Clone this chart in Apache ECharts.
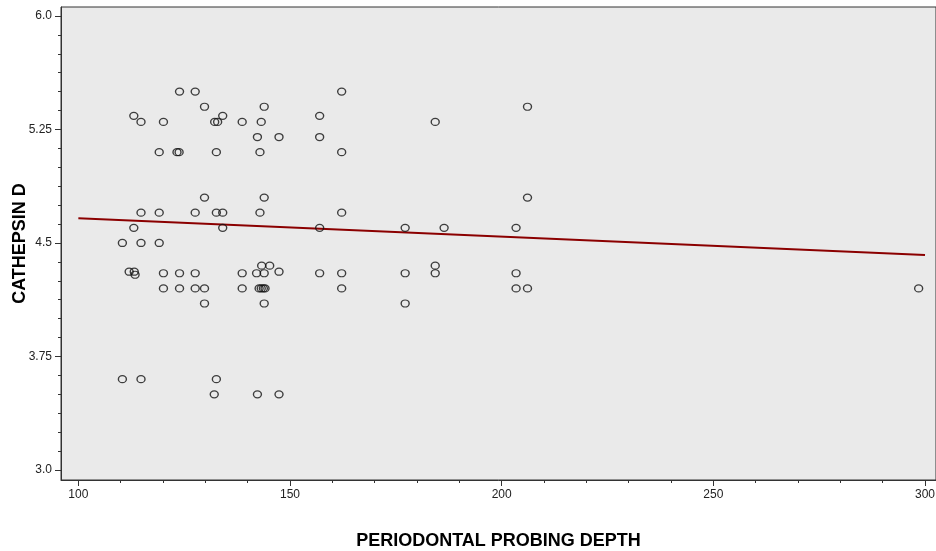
<!DOCTYPE html>
<html>
<head>
<meta charset="utf-8">
<script src="https://cdn.jsdelivr.net/npm/echarts@6/dist/echarts.min.js"></script>
<style>
  html, body { margin: 0; padding: 0; background: #ffffff; }
  #chart { width: 936px; height: 551px; }
</style>
</head>
<body>
<div id="chart"></div>
<script>
// ---- data ----
var probingDepth = [
  123.9, 127.6, 162.2, 129.8, 143.9, 206.1, 113.1, 134.1, 157.0, 114.8,
  120.1, 132.2, 132.9, 138.7, 143.2, 184.3, 142.3, 147.4, 157.0, 119.1,
  123.3, 123.8, 132.6, 142.9, 162.2, 129.8, 143.9, 206.1, 114.8, 119.1,
  127.6, 132.6, 134.1, 142.9, 162.2, 113.1, 134.1, 157.0, 177.2, 186.4,
  203.4, 110.4, 114.8, 119.1, 143.3, 145.2, 184.3, 112.0, 113.2, 113.4,
  120.1, 123.9, 127.6, 138.7, 142.1, 143.9, 147.4, 157.0, 162.2, 177.2,
  184.3, 203.4, 120.1, 123.9, 127.6, 129.8, 138.7, 142.7, 143.2, 143.7,
  144.1, 162.2, 203.4, 206.1, 298.5, 129.8, 143.9, 177.2, 110.4, 114.8,
  132.6, 132.1, 142.3, 147.4
];
var cathepsinD = [
  5.5, 5.5, 5.5, 5.4, 5.4, 5.4, 5.34, 5.34, 5.34, 5.3,
  5.3, 5.3, 5.3, 5.3, 5.3, 5.3, 5.2, 5.2, 5.2, 5.1,
  5.1, 5.1, 5.1, 5.1, 5.1, 4.8, 4.8, 4.8, 4.7, 4.7,
  4.7, 4.7, 4.7, 4.7, 4.7, 4.6, 4.6, 4.6, 4.6, 4.6,
  4.6, 4.5, 4.5, 4.5, 4.35, 4.35, 4.35, 4.31, 4.31, 4.29,
  4.3, 4.3, 4.3, 4.3, 4.3, 4.3, 4.31, 4.3, 4.3, 4.3,
  4.3, 4.3, 4.2, 4.2, 4.2, 4.2, 4.2, 4.2, 4.2, 4.2,
  4.2, 4.2, 4.2, 4.2, 4.2, 4.1, 4.1, 4.1, 3.6, 3.6,
  3.6, 3.5, 3.5, 3.5
];
// fitted line endpoints
var fitX = [100, 300];
var fitY = [4.663, 4.42];

// tick values and labels
var xTickValues = [100, 150, 200, 250, 300];
var xMinorTickValues = [110, 120, 130, 140, 160, 170, 180, 190, 210, 220, 230, 240, 260, 270, 280, 290];
var yTickValues = [3.0, 3.75, 4.5, 5.25, 6.0];
var yTickLabels = ['3.0', '3.75', '4.5', '5.25', '6.0'];
var yMinorTickValues = [3.125, 3.25, 3.375, 3.5, 3.625, 3.875, 4.0, 4.125, 4.25, 4.375,
  4.625, 4.75, 4.875, 5.0, 5.125, 5.375, 5.5, 5.625, 5.75, 5.875];

var xTitle = 'PERIODONTAL PROBING DEPTH';
var yTitle = 'CATHEPSIN D';

// ---- build ----
var points = probingDepth.map(function (x, i) { return [x, cathepsinD[i]]; });
var fitLine = fitX.map(function (x, i) { return [x, fitY[i]]; });

var xMin = 95.9, xMax = 302.6, yMin = 2.934, yMax = 6.059;
var axisColor = '#333333';
var labelFont = { color: '#222222', fontFamily: 'Liberation Sans', fontSize: 12 };
var titleFont = { fontFamily: 'Liberation Sans', fontWeight: 'bold', fontSize: 18, color: '#000000' };

var chart = echarts.init(document.getElementById('chart'), null, { renderer: 'canvas' });
chart.setOption({
  animation: false,
  backgroundColor: '#ffffff',
  grid: {
    left: 61, right: 0, top: 7, bottom: 71,
    outerBoundsMode: 'none',
    containLabel: false,
    show: true, backgroundColor: '#EAEAEA', borderColor: axisColor, borderWidth: 1
  },
  xAxis: [{
    type: 'value', min: xMin, max: xMax,
    splitLine: { show: false },
    axisLine: { show: true, onZero: false, lineStyle: { color: axisColor, width: 1 } },
    axisTick: { show: true, length: 6, customValues: xTickValues, lineStyle: { color: axisColor } },
    axisLabel: Object.assign({ margin: 9, customValues: xTickValues }, labelFont),
    name: xTitle, nameLocation: 'middle', nameGap: 52, nameMoveOverlap: false,
    nameTextStyle: titleFont
  }, {
    type: 'value', min: xMin, max: xMax, position: 'bottom',
    splitLine: { show: false },
    axisLine: { show: false, onZero: false },
    axisTick: { show: true, length: 3, customValues: xMinorTickValues, lineStyle: { color: axisColor } },
    axisLabel: { show: false }
  }],
  yAxis: [{
    type: 'value', min: yMin, max: yMax,
    splitLine: { show: false },
    axisLine: { show: true, onZero: false, lineStyle: { color: axisColor, width: 1 } },
    axisTick: { show: true, length: 6, customValues: yTickValues, lineStyle: { color: axisColor } },
    axisLabel: Object.assign({
      margin: 9, customValues: yTickValues,
      formatter: function (v) {
        for (var i = 0; i < yTickValues.length; i++) {
          if (Math.abs(yTickValues[i] - v) < 1e-6) return yTickLabels[i];
        }
        return '';
      }
    }, labelFont),
    name: yTitle, nameLocation: 'middle', nameGap: 32, nameRotate: 90, nameMoveOverlap: false,
    nameTextStyle: titleFont
  }, {
    type: 'value', min: yMin, max: yMax, position: 'left',
    splitLine: { show: false },
    axisLine: { show: false, onZero: false },
    axisTick: { show: true, length: 3, customValues: yMinorTickValues, lineStyle: { color: axisColor } },
    axisLabel: { show: false }
  }],
  series: [{
    type: 'line',
    data: fitLine,
    xAxisIndex: 0, yAxisIndex: 0,
    symbol: 'none',
    lineStyle: { color: '#8B0000', width: 2 },
    z: 2
  }, {
    type: 'scatter',
    data: points,
    xAxisIndex: 0, yAxisIndex: 0,
    symbol: 'circle',
    symbolSize: [8, 7],
    itemStyle: { color: 'rgba(0,0,0,0)', borderColor: '#111111', borderWidth: 1.3 },
    z: 3
  }]
});
</script>
</body>
</html>
